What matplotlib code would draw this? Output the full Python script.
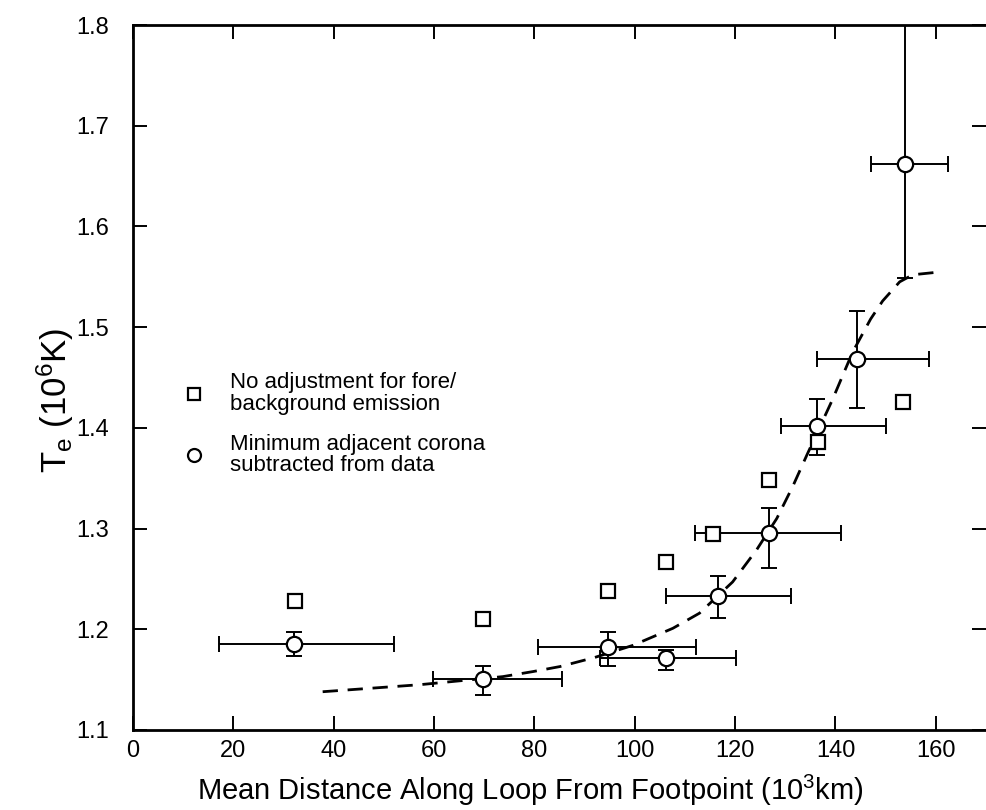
import matplotlib
matplotlib.use("Agg")
import matplotlib.pyplot as plt
from matplotlib import font_manager

names = {f.name for f in font_manager.fontManager.ttflist}
FONT = 'Liberation Sans' if 'Liberation Sans' in names else 'DejaVu Sans'

# ---- data ----
circ_x = [32.1, 69.7, 94.6, 106.2, 116.5, 126.7, 136.3, 144.2, 153.8]
circ_y = [1.185, 1.151, 1.182, 1.171, 1.233, 1.296, 1.402, 1.468, 1.662]
circ_y_lo = [1.173, 1.135, 1.164, 1.160, 1.211, 1.261, 1.373, 1.420, 1.549]
circ_y_hi = [1.197, 1.164, 1.197, 1.179, 1.253, 1.320, 1.429, 1.516, 1.850]
circ_x_lo = [17.1, 59.8, 80.7, 93.0, 106.2, 112.0, 129.1, 136.3, 147.0]
circ_x_hi = [52.0, 85.5, 112.2, 120.1, 131.1, 141.2, 150.0, 158.6, 162.4]

sq_x = [32.3, 69.7, 94.6, 106.3, 115.5, 126.7, 136.5, 153.4]
sq_y = [1.228, 1.210, 1.238, 1.267, 1.295, 1.348, 1.386, 1.426]

fit_x = [37.8, 57.2, 73.7, 79.7, 85.1, 92.0, 99.6, 107.6, 112.9, 119.5,
         124.3, 128.3, 131.5, 134.3, 139.4, 143.4, 147.0, 149.4, 152.8,
         155.4, 161.2]
fit_y = [1.138, 1.145, 1.153, 1.158, 1.163, 1.172, 1.184, 1.201, 1.216, 1.247,
         1.279, 1.310, 1.342, 1.373, 1.428, 1.475, 1.508, 1.526, 1.545,
         1.552, 1.555]

x_ticks = [0, 20, 40, 60, 80, 100, 120, 140, 160]
y_ticks = [1.1, 1.2, 1.3, 1.4, 1.5, 1.6, 1.7, 1.8]
y_ticklabels = ["1.1", "1.2", "1.3", "1.4", "1.5", "1.6", "1.7", "1.8"]

label_sq = "No adjustment for fore/\nbackground emission"
label_circ = "Minimum adjacent corona\nsubtracted from data"

# ---- figure ----
plt.rcParams['font.family'] = [FONT, 'DejaVu Sans']
plt.rcParams['mathtext.fontset'] = 'custom'
plt.rcParams['mathtext.rm'] = FONT
plt.rcParams['mathtext.it'] = FONT

W, H = 986, 810
fig = plt.figure(figsize=(W / 100, H / 100), dpi=100)
ax_left, ax_right, ax_top, ax_bot = 133, 986, 25, 730
ax = fig.add_axes([ax_left / W, (H - ax_bot) / H,
                   (ax_right - ax_left) / W, (ax_bot - ax_top) / H])

ax.set_xlim(0, 170)
ax.set_ylim(1.1, 1.8)

# fitted dashed curve
ax.plot(fit_x, fit_y, color='black', lw=2.0, dashes=(5.5, 3.5), zorder=2)

# error bars
yerr = [[y - lo for y, lo in zip(circ_y, circ_y_lo)],
        [hi - y for y, hi in zip(circ_y, circ_y_hi)]]
xerr = [[x - lo for x, lo in zip(circ_x, circ_x_lo)],
        [hi - x for x, hi in zip(circ_x, circ_x_hi)]]
ax.errorbar(circ_x, circ_y, yerr=yerr, xerr=xerr, fmt='none', ecolor='black',
            elinewidth=1.4, capsize=6, capthick=1.4, zorder=3)

sq, = ax.plot(sq_x, sq_y, ls='none', marker='s', ms=10, mfc='white',
              mec='black', mew=1.6, zorder=4, label=label_sq)
ci, = ax.plot(circ_x, circ_y, ls='none', marker='o', ms=11, mfc='white',
              mec='black', mew=1.6, zorder=5, label=label_circ)

# ticks / spines
ax.set_xticks(x_ticks)
ax.set_xticklabels([str(t) for t in x_ticks])
ax.set_yticks(y_ticks)
ax.set_yticklabels(y_ticklabels)
ax.tick_params(axis='both', direction='in', top=True, right=True,
               length=10, width=1.4, labelsize=17)
ax.tick_params(axis='x', pad=7)
ax.tick_params(axis='y', pad=17)
for s in ['left', 'bottom', 'top']:
    ax.spines[s].set_linewidth(2.0)
ax.spines['right'].set_visible(False)

ax.set_xlabel(r"Mean Distance Along Loop From Footpoint (10$^3$km)",
              fontsize=21, va='center')
ax.xaxis.set_label_coords((530 - ax_left) / (ax_right - ax_left),
                          (ax_bot - 790) / (ax_bot - ax_top))
ax.set_ylabel(r"T$_{\rm e}$ (10$^6$K)", fontsize=25, va='center')
ax.yaxis.set_label_coords((55 - ax_left) / (ax_right - ax_left),
                          (ax_bot - 400) / (ax_bot - ax_top))

leg = ax.legend(handles=[sq, ci], loc='upper left',
                bbox_to_anchor=((186 - ax_left) / (ax_right - ax_left),
                                (ax_bot - 372) / (ax_bot - ax_top)),
                frameon=False, fontsize=16, handlelength=0.7,
                handletextpad=1.3, labelspacing=0.85, borderpad=0,
                borderaxespad=0, markerscale=0.85)
for t in leg.get_texts():
    t.set_linespacing(1.05)

fig.savefig("out.png", dpi=100)
